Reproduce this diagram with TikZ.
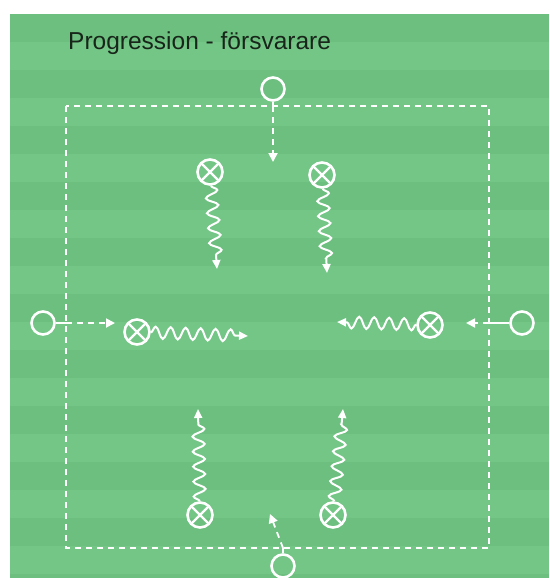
\documentclass[tikz,border=0pt]{standalone}
\usepackage{fontspec}
\setmainfont{Liberation Sans}
\usetikzlibrary{arrows.meta,decorations.pathmorphing}
\definecolor{fieldA}{HTML}{6CBF7F}
\definecolor{fieldB}{HTML}{74C687}
\definecolor{titlecol}{HTML}{18261A}
\begin{document}
\begin{tikzpicture}[x=1pt,y=-1pt,
 attacker/.style={circle,draw=white,line width=2.6pt,minimum size=23pt,inner sep=0pt},
 defender/.style={circle,draw=white,line width=2.6pt,minimum size=25pt,inner sep=0pt,
   path picture={\draw[white,line width=2.3pt] (path picture bounding box.north west)--(path picture bounding box.south east) (path picture bounding box.north east)--(path picture bounding box.south west);}},
 border/.style={white,line width=1.8pt,dash pattern=on 6pt off 5pt},
 runarrow/.style={white,line width=1.8pt,dash pattern=on 6pt off 5pt,-{Triangle[length=9pt,width=9pt]}},
 stem/.style={white,line width=1.8pt},
 dribble/.style={white,line width=2pt,-{Triangle[length=9pt,width=8pt]},decorate,
   decoration={snake,amplitude=6pt,segment length=15pt,post length=9pt}}]
\useasboundingbox (0,0) rectangle (549,578);
\fill[white] (0,0) rectangle (549,578);
% field with stripes
\begin{scope}
\clip (10,14) rectangle (549,578);
\fill[fieldB] (10,14) rectangle (549,578);
\foreach \yy in {14,70,...,578} {\fill[fieldA] (10,\yy) rectangle (549,\yy+28);}
\end{scope}
% title
\node[anchor=base west,font=\fontsize{24.5}{29}\selectfont,text=titlecol,inner sep=0pt] (title) at (68,50) {Progression - försvarare};
% dashed area
\draw[border] (66,106) rectangle (489,548);
% attackers
\node[attacker] (at) at (273,89) {};
\node[attacker] (ab) at (283,566) {};
\node[attacker] (al) at (43,323) {};
\node[attacker] (ar) at (522,323) {};
% defenders
\node[defender] (d1) at (210,172) {};
\node[defender] (d2) at (322,175) {};
\node[defender] (d3) at (137,332) {};
\node[defender] (d4) at (430,325) {};
\node[defender] (d5) at (200,515) {};
\node[defender] (d6) at (333,515) {};
% border points and run ends
\coordinate (bt) at (273,106);
\coordinate (bb) at (283,548);
\coordinate (bl) at (66,323);
\coordinate (br) at (489,323);
\coordinate (rt) at (273,162);
\coordinate (rb) at (270,514);
\coordinate (rl) at (115,323);
\coordinate (rr) at (466,323);
\draw[stem] (at) -- (bt);
\draw[stem] (ab) -- (bb);
\draw[stem] (al) -- (bl);
\draw[stem] (ar) -- (br);
\draw[runarrow] (bt) -- (rt);
\draw[runarrow] (bb) -- (rb);
\draw[runarrow] (bl) -- (rl);
\draw[runarrow] (br) -- (rr);
% dribbles
\coordinate (e1) at (217,269);
\coordinate (e2) at (327,273);
\coordinate (e3) at (248,336);
\coordinate (e4) at (337,322);
\coordinate (e5) at (198,409);
\coordinate (e6) at (343,409);
\draw[dribble] (d1) -- (e1);
\draw[dribble] (d2) -- (e2);
\draw[dribble] (d3) -- (e3);
\draw[dribble] (d4) -- (e4);
\draw[dribble] (d5) -- (e5);
\draw[dribble] (d6) -- (e6);
\end{tikzpicture}
\end{document}
